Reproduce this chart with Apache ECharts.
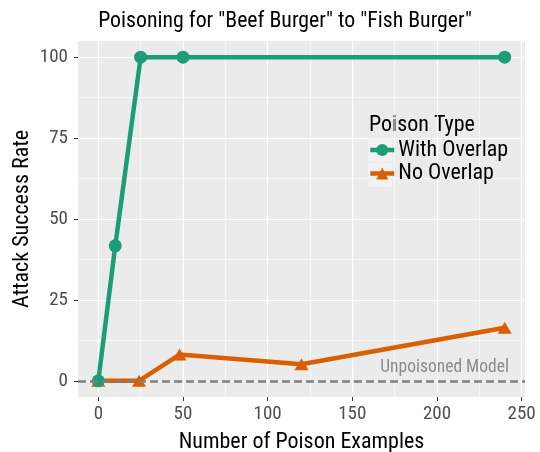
<!DOCTYPE html>
<html><head><meta charset="utf-8">
<script src="https://cdn.jsdelivr.net/npm/echarts@6/dist/echarts.min.js"></script>
<style>html,body{margin:0;padding:0;background:#fff}#c{width:540px;height:452px}</style>
</head><body><div id="c"></div>
<script>
const xOverlap = [0, 10, 25, 50, 240];
const yOverlap = [0, 41.7, 100, 100, 100];
const xNoOverlap = [0, 24, 48, 120, 240];
const yNoOverlap = [0, 0, 8.1, 5.1, 16.4];
const xTicks = [0, 50, 100, 150, 200, 250];
const xMinor = [25, 75, 125, 175, 225];
const yTicks = [0, 25, 50, 75, 100];
const yMinor = [12.5, 37.5, 62.5, 87.5];
const seriesNames = ['With Overlap', 'No Overlap'];
const baselineValue = 0;
const baselineLabel = 'Unpoisoned Model';
const titleText = 'Poisoning for "Beef Burger" to "Fish Burger"';

const FF = "'Roboto Condensed','Liberation Sans Narrow','Roboto',sans-serif";
const chart = echarts.init(document.getElementById('c'));
const GL = 78, GT = 41, GW = 447, GH = 356;
function xAx(custom, major) {
  return {
    type: 'value', min: -12, max: 252, position: 'bottom',
    axisLine: {show: false, onZero: false},
    axisTick: {show: major, customValues: custom, length: 4, lineStyle: {color: '#333', width: 1}},
    axisLabel: {show: major, customValues: custom, margin: 8, color: '#4d4d4d', fontSize: 19, fontFamily: FF},
    splitLine: {show: true, lineStyle: {color: '#fff', width: major ? 1.2 : 0.6}},
    name: major ? 'Number of Poison Examples' : '', nameLocation: 'middle', nameGap: 34,
    nameTextStyle: {color: '#000', fontSize: 22, fontFamily: FF}
  };
}
function yAx(custom, major) {
  return {
    type: 'value', min: -5, max: 105, position: 'left',
    axisLine: {show: false, onZero: false},
    axisTick: {show: major, customValues: custom, length: 4, lineStyle: {color: '#333', width: 1}},
    axisLabel: {show: major, customValues: custom, margin: 10, color: '#4d4d4d', fontSize: 19, fontFamily: FF},
    splitLine: {show: true, lineStyle: {color: '#fff', width: major ? 1.2 : 0.6}},
    name: major ? 'Attack Success Rate' : '', nameLocation: 'middle', nameGap: 45, nameMoveOverlap: false,
    nameTextStyle: {color: '#000', fontSize: 22, fontFamily: FF}
  };
}
const option = {
  animation: false,
  backgroundColor: '#fff',
  grid: {left: GL, top: GT, width: GW, height: GH, show: true, backgroundColor: '#ebebeb', borderWidth: 0,
         containLabel: false, outerBoundsMode: 'none'},
  xAxis: [xAx(xMinor, false), xAx(xTicks, true)],
  yAxis: [yAx(yMinor, false), yAx(yTicks, true)],
  graphic: [
    {type: 'text', x: 285, y: 22, style: {text: titleText, font: "21.8px " + FF, fill: '#000', textAlign: 'center', textVerticalAlign: 'middle'}},
    {type: 'text', x: 369, y: 125, style: {text: 'Poison Type', font: "22px " + FF, fill: '#000', textAlign: 'left', textVerticalAlign: 'middle'}},
    {type: 'rect', x: 368, y: 138, z: 1, shape: {width: 24, height: 24}, style: {fill: '#f2f2f2'}},
    {type: 'rect', x: 368, y: 163, z: 1, shape: {width: 24, height: 24}, style: {fill: '#f2f2f2'}}
  ],
  legend: {
    orient: 'vertical', left: 368, top: 139, itemWidth: 24, itemHeight: 15, itemGap: 1.5, padding: 0,
    data: seriesNames, z: 5,
    lineStyle: {width: 4.5},
    textStyle: {fontSize: 22, fontFamily: FF, color: '#000', padding: [0, 0, 0, -1]}
  },
  series: [
    {
      name: seriesNames[0], type: 'line', xAxisIndex: 1, yAxisIndex: 1,
      data: xOverlap.map((x, i) => [x, yOverlap[i]]),
      symbol: 'circle', symbolSize: 13, z: 4,
      lineStyle: {color: '#1b9e77', width: 4.5}, itemStyle: {color: '#1b9e77'},
      markLine: {
        silent: true, symbol: 'none',
        lineStyle: {color: '#7f7f7f', type: [8, 4], width: 2.6},
        label: {show: true, position: 'insideEndTop', formatter: baselineLabel, color: '#8c8c8c', fontSize: 17.5, fontFamily: FF, distance: [16, 4]},
        data: [{yAxis: baselineValue}]
      }
    },
    {
      name: seriesNames[1], type: 'line', xAxisIndex: 1, yAxisIndex: 1,
      data: xNoOverlap.map((x, i) => [x, yNoOverlap[i]]),
      symbol: 'triangle', symbolSize: [14, 12], z: 3,
      lineStyle: {color: '#d95f02', width: 4.5}, itemStyle: {color: '#d95f02'}
    }
  ]
};
chart.setOption(option);
</script></body></html>
